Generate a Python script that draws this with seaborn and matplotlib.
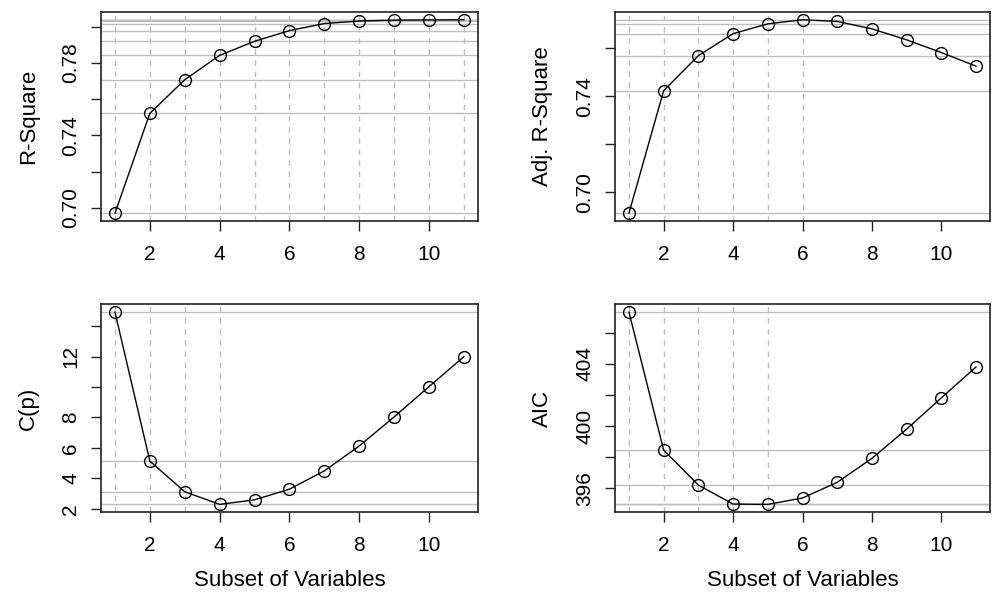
import numpy as np
import pandas as pd
import matplotlib
matplotlib.use("Agg")
from matplotlib import pyplot as plt
import seaborn as sns

# Best subset selection metrics
n_vars = [1, 2, 3, 4, 5, 6, 7, 8, 9, 10, 11]
r_square = [0.6969, 0.7522, 0.7708, 0.7843, 0.7921, 0.7980, 0.8019, 0.8033, 0.8038, 0.8039, 0.8040]
adj_r_square = [0.6912, 0.7424, 0.7570, 0.7662, 0.7703, 0.7720, 0.7713, 0.7682, 0.7636, 0.7583, 0.7526]
cp = [14.93, 5.13, 3.12, 2.29, 2.59, 3.29, 4.49, 6.13, 8.04, 10.03, 12.0]
aic = [407.34, 398.46, 396.21, 394.99, 394.97, 395.38, 396.39, 397.93, 399.81, 401.82, 403.81]

x_ticks = [2, 4, 6, 8, 10]
r2_ticks = [0.70, 0.72, 0.74, 0.76, 0.78, 0.80]
r2_labels = ["0.70", "", "0.74", "", "0.78", ""]
adj_ticks = [0.70, 0.72, 0.74, 0.76]
adj_labels = ["0.70", "", "0.74", ""]
cp_ticks = [2, 4, 6, 8, 10, 12, 14]
cp_labels = ["2", "4", "6", "8", "", "12", ""]
aic_ticks = [396, 398, 400, 402, 404, 406]
aic_labels = ["396", "", "400", "", "404", ""]

panels = [
    ("R-Square", r_square, "max", r2_ticks, r2_labels),
    ("Adj. R-Square", adj_r_square, "max", adj_ticks, adj_labels),
    ("C(p)", cp, "min", cp_ticks, cp_labels),
    ("AIC", aic, "min", aic_ticks, aic_labels),
]

sns.set_style("ticks")
plt.rcParams["font.family"] = ["Liberation Sans", "DejaVu Sans"]
plt.rcParams["text.color"] = "black"
plt.rcParams["axes.labelcolor"] = "black"
plt.rcParams["xtick.color"] = "black"
plt.rcParams["ytick.color"] = "black"

fig = plt.figure(figsize=(9.92, 5.92), dpi=100)
positions = [
    [0.1018, 0.6267, 0.380, 0.353],
    [0.6200, 0.6267, 0.378, 0.353],
    [0.1018, 0.1350, 0.380, 0.351],
    [0.6200, 0.1350, 0.378, 0.351],
]

for i, (name, values, best, yticks, ylabels) in enumerate(panels):
    ax = fig.add_axes(positions[i])
    df = pd.DataFrame({"n": n_vars, "value": values})
    best_idx = int(np.argmax(values)) if best == "max" else int(np.argmin(values))

    # reference lines up to the best subset
    for j in range(best_idx + 1):
        ax.axvline(n_vars[j], color="#BEBEBE", linestyle=(0, (4, 4)), linewidth=1, zorder=0)
        ax.axhline(values[j], color="#BEBEBE", linestyle="-", linewidth=1, zorder=0)

    sns.lineplot(data=df, x="n", y="value", ax=ax, color="black", linewidth=1,
                 marker="o", markersize=8.5, markerfacecolor="none",
                 markeredgecolor="black", markeredgewidth=1)

    pad_x = 0.04 * (max(n_vars) - min(n_vars))
    ax.set_xlim(min(n_vars) - pad_x, max(n_vars) + pad_x)
    pad_y = 0.04 * (max(values) - min(values))
    ax.set_ylim(min(values) - pad_y, max(values) + pad_y)

    ax.set_xticks(x_ticks)
    ax.set_xticklabels([str(t) for t in x_ticks], fontsize=15)
    ax.set_yticks(yticks)
    ax.set_yticklabels(ylabels, fontsize=15, rotation=90, va="center")
    ax.tick_params(axis="x", length=7, width=1, color="#222222", pad=10)
    ax.tick_params(axis="y", length=7, width=1, color="#222222", pad=8)

    for side in ["top", "right", "bottom", "left"]:
        ax.spines[side].set_visible(True)
        ax.spines[side].set_linewidth(1.2)
        ax.spines[side].set_color("#222222")

    ax.set_ylabel(name, fontsize=16, labelpad=16)
    if i >= 2:
        ax.set_xlabel("Subset of Variables", fontsize=16, labelpad=11)
    else:
        ax.set_xlabel("")

fig.savefig("out.png", dpi=100)
